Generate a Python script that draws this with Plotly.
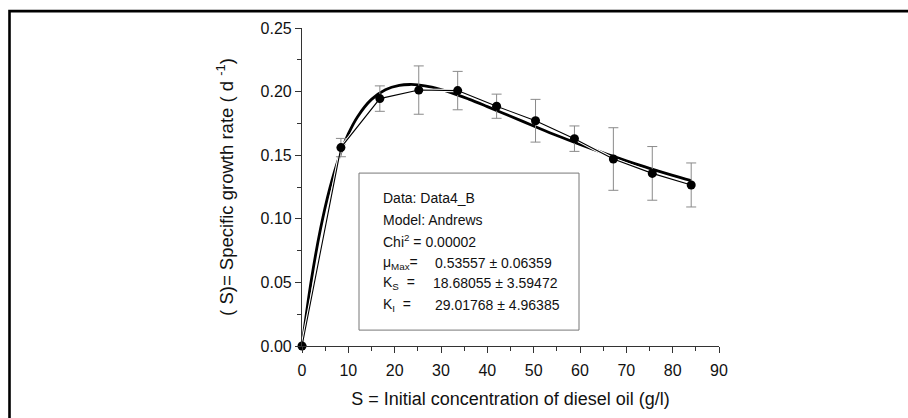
import plotly.graph_objects as go

# Measured data (S in g/l, specific growth rate in d^-1)
s_data = [0, 8.4, 16.8, 25.2, 33.6, 42.0, 50.4, 58.8, 67.2, 75.6, 84.0]
mu_data = [0.0, 0.156, 0.1945, 0.2012, 0.2008, 0.1885, 0.1771, 0.163, 0.147, 0.1357, 0.1266]
mu_err = [0.0, 0.0072, 0.0100, 0.0190, 0.0151, 0.0095, 0.0168, 0.0100, 0.0246, 0.0211, 0.0173]

# Andrews fit curve
s_fit = [0, 2, 4, 6, 8, 10, 12, 15, 18, 21, 23.3, 25, 28, 32, 36, 40, 45, 50, 55, 60, 65, 70, 75, 80, 84]
mu_fit = [0.0, 0.0515, 0.0922, 0.1240, 0.1483, 0.1667, 0.1803, 0.1939, 0.2015, 0.2049, 0.2056,
          0.2053, 0.2035, 0.1994, 0.1941, 0.1882, 0.1806, 0.1730, 0.1655, 0.1585, 0.1518,
          0.1456, 0.1397, 0.1342, 0.1301]

x_ticks = [0, 10, 20, 30, 40, 50, 60, 70, 80, 90]
y_ticks = [0.00, 0.05, 0.10, 0.15, 0.20, 0.25]

box_lines = ["Data: Data4_B", "Model: Andrews", "Chi<sup>2</sup> = 0.00002"]
param_names = ["μ<sub>Max</sub>=", "K<sub>S</sub>  =", "K<sub>I</sub>  ="]
param_values = ["0.53557 ± 0.06359", "18.68055 ± 3.59472", "29.01768 ± 4.96385"]

FONT = "Liberation Sans, Arial, sans-serif"
W, H = 908, 418
L, R, T, B = 302, 189, 28, 70
PW, PH = W - L - R, H - T - B

def px_x(px):
    return (px - L) / PW

def px_y(py):
    return (H - B - py) / PH

fig = go.Figure()

# Fit curve (thick)
fig.add_trace(go.Scatter(x=s_fit, y=mu_fit, mode="lines", line=dict(color="black", width=2.8, shape="spline"),
                         cliponaxis=False, showlegend=False, hoverinfo="skip"))
# white halo for data line
fig.add_trace(go.Scatter(x=s_data, y=mu_data, mode="lines", line=dict(color="white", width=3.2),
                         cliponaxis=False, showlegend=False, hoverinfo="skip"))
# data line + error bars + markers
fig.add_trace(go.Scatter(x=s_data, y=mu_data, mode="lines+markers",
                         line=dict(color="black", width=1.1),
                         marker=dict(color="black", size=9),
                         error_y=dict(type="data", array=mu_err, color="#8a8a8a", thickness=1, width=5),
                         cliponaxis=False, showlegend=False))

fig.update_xaxes(range=[0, 90], tickvals=x_ticks, ticks="outside", ticklen=6, tickwidth=1,
                 tickcolor="#333", showline=True, linecolor="#333", linewidth=1.2,
                 showgrid=False, zeroline=False, ticklabelstandoff=4,
                 minor=dict(dtick=5, ticks="outside", ticklen=4, tickcolor="#333", tickwidth=1, showgrid=False),
                 tickfont=dict(family=FONT, size=16, color="#111"),
                 title=dict(text="S = Initial concentration of diesel oil (g/l)",
                            font=dict(family=FONT, size=18, color="#111"), standoff=14))
fig.update_yaxes(range=[0, 0.25], tickvals=y_ticks, tickformat=".2f", ticks="outside", ticklen=6, tickwidth=1,
                 tickcolor="#333", showline=True, linecolor="#333", linewidth=1.2,
                 showgrid=False, zeroline=False,
                 minor=dict(dtick=0.025, ticks="outside", ticklen=4, tickcolor="#333", tickwidth=1, showgrid=False),
                 tickfont=dict(family=FONT, size=16, color="#111"),
                 title=dict(text="( S)= Specific growth rate ( d <sup>-1</sup>)",
                            font=dict(family=FONT, size=18.5, color="#111"), standoff=22))

shapes = [
    # outer frame
    dict(type="rect", xref="paper", yref="paper", x0=px_x(9.5), x1=px_x(920), y0=px_y(430), y1=px_y(11),
         line=dict(color="black", width=2.6), fillcolor="rgba(0,0,0,0)", layer="above"),
    # text box
    dict(type="rect", xref="paper", yref="paper", x0=px_x(359), x1=px_x(579), y0=px_y(332), y1=px_y(174),
         line=dict(color="#777", width=1), fillcolor="white", layer="below"),
]

annotations = []
line_y = [199, 221, 242, 264, 285, 307]
for i, t in enumerate(box_lines):
    annotations.append(dict(xref="paper", yref="paper", x=px_x(381), y=px_y(line_y[i]), text=t,
                            showarrow=False, xanchor="left", yanchor="middle",
                            font=dict(family=FONT, size=14, color="#111")))
val_x = [433, 431, 433]
for i in range(3):
    annotations.append(dict(xref="paper", yref="paper", x=px_x(381), y=px_y(line_y[3 + i]), text=param_names[i],
                            showarrow=False, xanchor="left", yanchor="middle",
                            font=dict(family=FONT, size=14, color="#111")))
    annotations.append(dict(xref="paper", yref="paper", x=px_x(val_x[i]), y=px_y(line_y[3 + i]), text=param_values[i],
                            showarrow=False, xanchor="left", yanchor="middle",
                            font=dict(family=FONT, size=14, color="#111")))

fig.update_layout(width=W, height=H, margin=dict(l=L, r=R, t=T, b=B),
                  paper_bgcolor="white", plot_bgcolor="white",
                  shapes=shapes, annotations=annotations, showlegend=False)

fig.write_html("out.html", config={"displayModeBar": False},
               post_script="document.body.style.margin='0';document.body.style.overflow='hidden';")
